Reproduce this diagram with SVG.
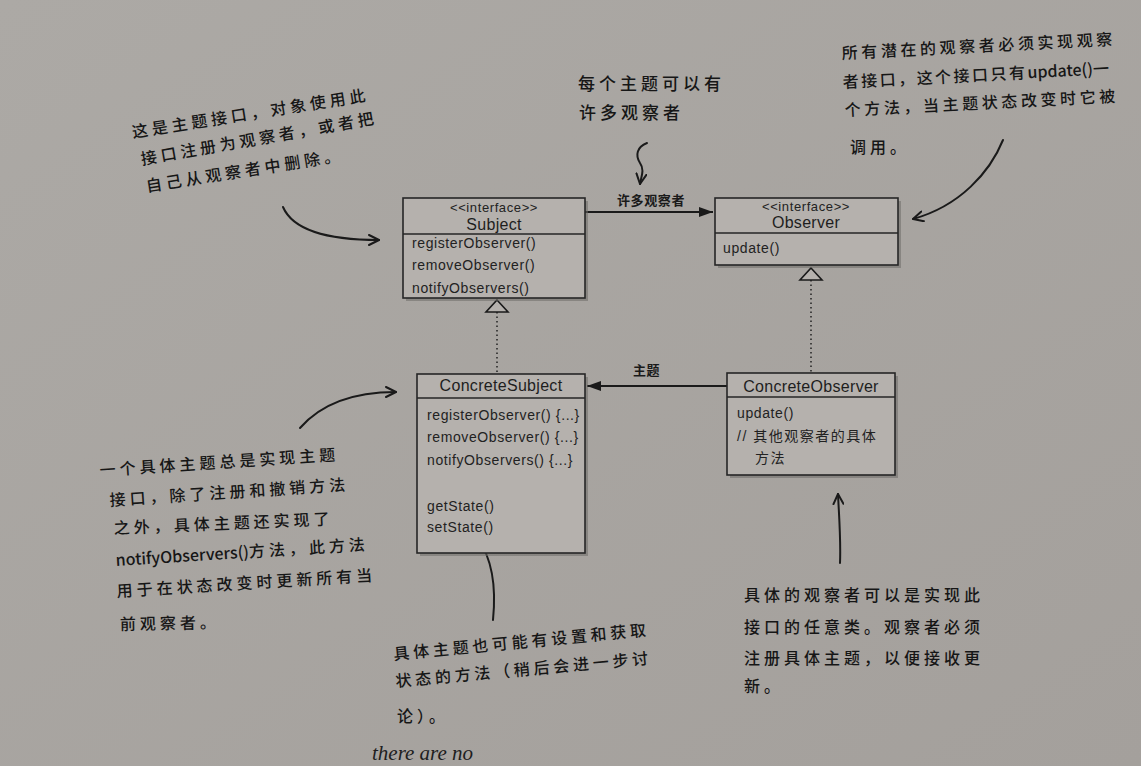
<svg xmlns="http://www.w3.org/2000/svg" width="1141" height="766" viewBox="0 0 1141 766">
<defs>
<linearGradient id="bg" x1="0" y1="0" x2="1" y2="1">
<stop offset="0" stop-color="#aca9a5"/>
<stop offset="1" stop-color="#a4a09c"/>
</linearGradient>
<marker id="solid" viewBox="0 0 14 10" refX="14" refY="5" markerWidth="14" markerHeight="10" markerUnits="userSpaceOnUse" orient="auto">
<path d="M0,0 L14,5 L0,10 Z" fill="#1a1a1a"/>
</marker>
<marker id="hand" viewBox="0 0 12 12" refX="11" refY="6" markerWidth="12" markerHeight="12" markerUnits="userSpaceOnUse" orient="auto">
<path d="M1,1 L11,6 L1,11" fill="none" stroke="#1a1a1a" stroke-width="2" stroke-linecap="round" stroke-linejoin="round"/>
</marker>
<style>
.box{fill:#b5b1ad;stroke:#262626;stroke-width:1.6}
.shadow{fill:#6e6b68;opacity:0.55}
.div{stroke:#262626;stroke-width:1.4}
.m{font-family:"Liberation Sans",Arial,sans-serif;font-size:14px;letter-spacing:0.6px;fill:#222}
.st{font-family:"Liberation Sans",Arial,sans-serif;font-size:13px;letter-spacing:0.6px;fill:#222;text-anchor:middle}
.ti{font-family:"Liberation Sans",Arial,sans-serif;font-size:16px;letter-spacing:0.3px;fill:#1e1e1e;text-anchor:middle}
.cj{font-family:"Liberation Sans","Noto Sans CJK SC",sans-serif;font-size:14px;letter-spacing:1.5px;fill:#222}
.lbl{font-family:"Noto Sans CJK SC",sans-serif;font-size:13px;font-weight:bold;letter-spacing:0.6px;fill:#1a1a1a}
.hw{font-family:"Noto Sans CJK SC",sans-serif;font-size:16px;font-weight:500;letter-spacing:4px;fill:#161616}
.line{stroke:#1a1a1a;stroke-width:2;fill:none}
.dot{stroke:#2a2a2a;stroke-width:1.6;stroke-dasharray:1.5 3;fill:none}
.tri{fill:#b5b1ad;stroke:#1a1a1a;stroke-width:1.6}
.hand{stroke:#1a1a1a;stroke-width:2;fill:none;stroke-linecap:round}
</style>
</defs>
<rect width="1141" height="766" fill="url(#bg)"/>

<g id="connectors">
<line class="line" x1="585" y1="212" x2="713" y2="212" marker-end="url(#solid)"/>
<text class="lbl" x="617" y="205">许多观察者</text>
<line class="line" x1="728" y1="386" x2="587" y2="386" marker-end="url(#solid)"/>
<text class="lbl" x="633" y="375">主题</text>
<line class="dot" x1="497" y1="312" x2="497" y2="373"/>
<path class="tri" d="M497,300 L508,312 L486,312 Z"/>
<line class="dot" x1="811" y1="280" x2="811" y2="373"/>
<path class="tri" d="M811,268 L822,280 L800,280 Z"/>
<path class="hand" d="M283,207 C292,228 322,240 379,240" marker-end="url(#hand)"/>
<path class="hand" d="M647,143 C637,147 635,155 640,163 C645,170 641,177 640,184" marker-end="url(#hand)"/>
<path class="hand" d="M1003,140 C990,172 960,206 913,219" marker-end="url(#hand)"/>
<path class="hand" d="M300,428 C320,405 352,392 396,392" marker-end="url(#hand)"/>
<path class="hand" d="M493,620 C496,590 493,560 478,539" marker-end="url(#hand)"/>
<path class="hand" d="M840,563 C841,540 839,516 838,494" marker-end="url(#hand)"/>
</g>

<g id="subject">
<rect class="shadow" x="406" y="201" width="182" height="100"/>
<rect class="box" x="403" y="198" width="182" height="100"/>
<line class="div" x1="403" y1="234" x2="585" y2="234"/>
<text class="st" x="494" y="212">&lt;&lt;interface&gt;&gt;</text>
<text class="ti" x="494" y="230">Subject</text>
<text class="m" x="412" y="248">registerObserver()</text>
<text class="m" x="412" y="270">removeObserver()</text>
<text class="m" x="412" y="293">notifyObservers()</text>
</g>

<g id="observer">
<rect class="shadow" x="718" y="201" width="183" height="67"/>
<rect class="box" x="715" y="198" width="183" height="67"/>
<line class="div" x1="715" y1="233" x2="898" y2="233"/>
<text class="st" x="806" y="211">&lt;&lt;interface&gt;&gt;</text>
<text class="ti" x="806" y="228">Observer</text>
<text class="m" x="723" y="253">update()</text>
</g>

<g id="concreteSubject">
<rect class="shadow" x="420" y="377" width="168" height="179"/>
<rect class="box" x="417" y="374" width="168" height="179"/>
<line class="div" x1="417" y1="398" x2="585" y2="398"/>
<text class="ti" x="501" y="391">ConcreteSubject</text>
<text class="m" x="427" y="420">registerObserver() {...}</text>
<text class="m" x="427" y="442">removeObserver() {...}</text>
<text class="m" x="427" y="465">notifyObservers() {...}</text>
<text class="m" x="427" y="511">getState()</text>
<text class="m" x="427" y="532">setState()</text>
</g>

<g id="concreteObserver">
<rect class="shadow" x="730" y="376" width="168" height="102"/>
<rect class="box" x="727" y="373" width="168" height="102"/>
<line class="div" x1="727" y1="397" x2="895" y2="397"/>
<text class="ti" x="811" y="392">ConcreteObserver</text>
<text class="m" x="737" y="418">update()</text>
<text class="cj" x="737" y="441">// 其他观察者的具体</text>
<text class="cj" x="755" y="463">方法</text>
</g>

<g id="note-subject">
<text class="hw" transform="translate(133,138) rotate(-9)">这是主题接口，对象使用此</text>
<text class="hw" transform="translate(142,165) rotate(-10)">接口注册为观察者，或者把</text>
<text class="hw" transform="translate(147,192) rotate(-9)">自己从观察者中删除。</text>
</g>

<g id="note-many">
<text class="hw" style="font-size:17px" x="578" y="90">每个主题可以有</text>
<text class="hw" style="font-size:17px" x="579" y="119">许多观察者</text>
</g>

<g id="note-observer">
<text class="hw" style="letter-spacing:3.6px" transform="translate(842,59) rotate(-3)">所有潜在的观察者必须实现观察</text>
<text class="hw" style="letter-spacing:2.5px" transform="translate(843,88) rotate(-3)">者接口，这个接口只有<tspan style="letter-spacing:0">update()</tspan>一</text>
<text class="hw" style="letter-spacing:3.6px" transform="translate(845,116) rotate(-3)">个方法，当主题状态改变时它被</text>
<text class="hw" transform="translate(850,153)">调用。</text>
</g>

<g id="note-concrete-subject">
<text class="hw" transform="translate(100,476) rotate(-3.8)">一个具体主题总是实现主题</text>
<text class="hw" transform="translate(110,506) rotate(-3.8)">接口，除了注册和撤销方法</text>
<text class="hw" transform="translate(114,534) rotate(-2.5)">之外，具体主题还实现了</text>
<text class="hw" transform="translate(116,566) rotate(-3.6)"><tspan style="letter-spacing:0">notifyObservers()</tspan>方法，此方法</text>
<text class="hw" transform="translate(117,597) rotate(-3.6)">用于在状态改变时更新所有当</text>
<text class="hw" transform="translate(120,630) rotate(-1)">前观察者。</text>
</g>

<g id="note-state">
<text class="hw" style="letter-spacing:3.8px" transform="translate(394,660) rotate(-5.5)">具体主题也可能有设置和获取</text>
<text class="hw" style="letter-spacing:3.8px" transform="translate(396,687) rotate(-5.2)">状态的方法（稍后会进一步讨</text>
<text class="hw" transform="translate(397,722)">论）。</text>
</g>

<g id="note-concrete-observer">
<text class="hw" x="744" y="601">具体的观察者可以是实现此</text>
<text class="hw" x="744" y="633">接口的任意类。观察者必须</text>
<text class="hw" x="744" y="664">注册具体主题，以便接收更</text>
<text class="hw" x="744" y="692">新。</text>
</g>

<text x="372" y="760" font-family="Liberation Serif, serif" font-style="italic" font-size="21" fill="#1e1e1e">there are no</text>
</svg>
